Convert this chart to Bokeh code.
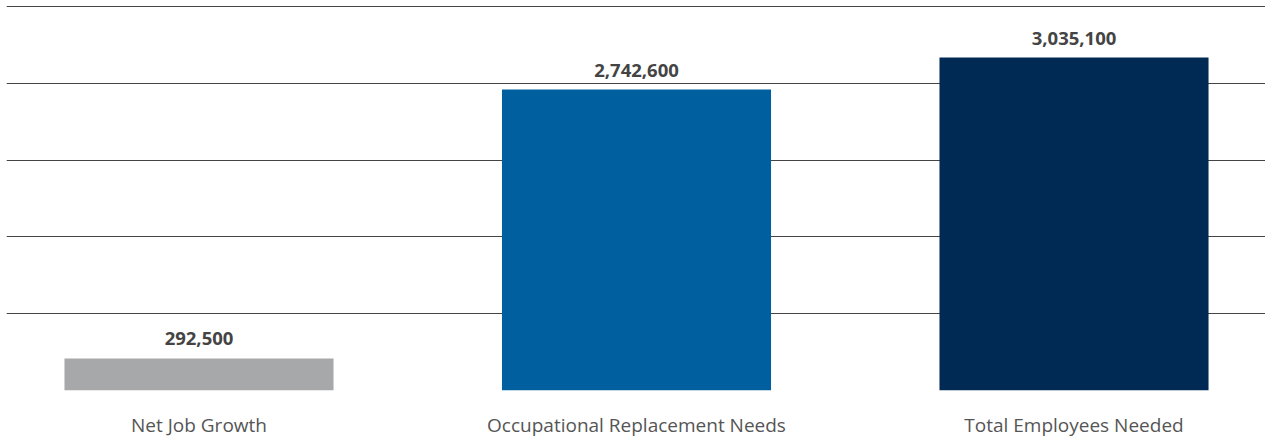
from bokeh.plotting import figure
from bokeh.models import ColumnDataSource, FixedTicker, LinearAxis, Range1d
from bokeh.core.properties import value
from bokeh.embed import file_html
from bokeh.resources import INLINE

categories = ["Net Job Growth", "Occupational Replacement Needs", "Total Employees Needed"]
values = [292500, 2742600, 3035100]
value_labels = ["292,500", "2,742,600", "3,035,100"]
grid_ticks = [0, 700000, 1400000, 2100000, 2800000, 3500000]

bar_colors = ["#A7A8AA", "#005F9E", "#002A54"]
positions = list(range(len(categories)))

src = ColumnDataSource(dict(x=positions, top=values, label=value_labels, color=bar_colors))

W, H = 1265, 440
p = figure(width=W, height=H, output_backend="svg", toolbar_location=None,
           x_range=Range1d(-0.44, 2.4377), y_range=Range1d(0, 3509115),
           x_axis_location=None, y_axis_location=None,
           min_border_left=6, min_border_right=0, min_border_top=5, min_border_bottom=50)
p.outline_line_color = None
p.background_fill_color = "white"
p.border_fill_color = "white"

xaxis = LinearAxis(ticker=FixedTicker(ticks=positions),
                   major_label_overrides={i: c for i, c in enumerate(categories)})
xaxis.axis_line_color = None
xaxis.major_tick_line_color = None
xaxis.minor_tick_line_color = None
xaxis.major_tick_in = 0
xaxis.major_tick_out = 0
xaxis.major_label_standoff = 21
xaxis.major_label_text_font = "Open Sans"
xaxis.major_label_text_font_size = "19px"
xaxis.major_label_text_color = "#555555"
p.add_layout(xaxis, "below")

p.xgrid.visible = False
p.ygrid.ticker = FixedTicker(ticks=grid_ticks)
p.ygrid.grid_line_color = "#444444"
p.ygrid.grid_line_width = 1.2

p.vbar(x="x", top="top", bottom=0, width=0.615, color="color", line_color=None, source=src)
p.text(x="x", y="top", text="label", source=src, text_align="center", text_baseline="bottom",
       y_offset=-13, text_font=value("Open Sans"), text_font_style="bold",
       text_font_size="18.5px", text_color="#444444")

open("out.html", "w").write(file_html(p, INLINE))
